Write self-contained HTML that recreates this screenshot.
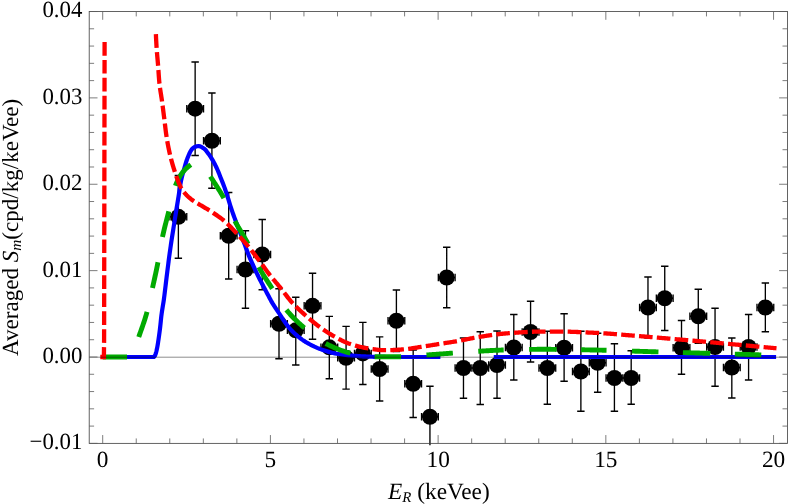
<!DOCTYPE html>
<html><head><meta charset="utf-8"><title>Averaged S_m vs E_R</title>
<style>
html,body{margin:0;padding:0;background:#fff;}
body{width:788px;height:504px;overflow:hidden;font-family:"Liberation Serif",serif;}
svg{display:block;will-change:transform;}
</style></head><body>
<svg width="788" height="504" viewBox="0 0 788 504">
<rect width="788" height="504" fill="#fff"/>
<defs><clipPath id="pc"><rect x="89.2" y="11.5" width="700.2" height="433.75"/></clipPath></defs>
<g clip-path="url(#pc)" stroke="#000" stroke-width="1.35" fill="none">
<path d="M178.37,175.5V258.25M174.67,175.5H182.07M174.67,258.25H182.07M169.98,216.8H186.76M169.98,213.1V220.5M186.76,213.1V220.5M195.14,62V155.5M191.44,62H198.84M191.44,155.5H198.84M186.76,108.7H203.53M186.76,105V112.4M203.53,105V112.4M211.91,93V188.25M208.21,93H215.61M208.21,188.25H215.61M203.53,140.75H220.3M203.53,137.05V144.45M220.3,137.05V144.45M228.68,192.5V279M224.98,192.5H232.38M224.98,279H232.38M220.3,235.75H237.07M220.3,232.05V239.45M237.07,232.05V239.45M245.46,230.75V308.25M241.76,230.75H249.16M241.76,308.25H249.16M237.07,269.5H253.84M237.07,265.8V273.2M253.84,265.8V273.2M262.23,219.5V289.75M258.53,219.5H265.93M258.53,289.75H265.93M253.84,254.5H270.61M253.84,250.8V258.2M270.61,250.8V258.2M279,288.75V358.75M275.3,288.75H282.7M275.3,358.75H282.7M270.61,323.75H287.38M270.61,320.05V327.45M287.38,320.05V327.45M295.77,297.2V365M292.07,297.2H299.47M292.07,365H299.47M287.38,330.3H304.15M287.38,326.6V334M304.15,326.6V334M312.54,273.25V339.25M308.84,273.25H316.24M308.84,339.25H316.24M304.15,305.8H320.93M304.15,302.1V309.5M320.93,302.1V309.5M329.31,316.4V378.75M325.61,316.4H333.01M325.61,378.75H333.01M320.93,347.3H337.7M320.93,343.6V351M337.7,343.6V351M346.08,326.4V389.1M342.38,326.4H349.78M342.38,389.1H349.78M337.7,357.8H354.47M337.7,354.1V361.5M354.47,354.1V361.5M362.85,322.4V384.5M359.15,322.4H366.55M359.15,384.5H366.55M354.47,353.4H371.24M354.47,349.7V357.1M371.24,349.7V357.1M379.63,336.9V401M375.93,336.9H383.33M375.93,401H383.33M371.24,369H388.01M371.24,365.3V372.7M388.01,365.3V372.7M396.4,290V351.5M392.7,290H400.1M392.7,351.5H400.1M388.01,320.75H404.78M388.01,317.05V324.45M404.78,317.05V324.45M413.17,350V417.5M409.47,350H416.87M409.47,417.5H416.87M404.78,383.75H421.55M404.78,380.05V387.45M421.55,380.05V387.45M429.94,386.25V447.25M426.24,386.25H433.64M426.24,447.25H433.64M421.55,416.75H438.32M421.55,413.05V420.45M438.32,413.05V420.45M446.71,247.25V307.75M443.01,247.25H450.41M443.01,307.75H450.41M438.32,277.5H455.1M438.32,273.8V281.2M455.1,273.8V281.2M463.48,338V398.25M459.78,338H467.18M459.78,398.25H467.18M455.1,368H471.87M455.1,364.3V371.7M471.87,364.3V371.7M480.25,331.75V404.5M476.55,331.75H483.95M476.55,404.5H483.95M471.87,368H488.64M471.87,364.3V371.7M488.64,364.3V371.7M497.02,331V398.25M493.32,331H500.72M493.32,398.25H500.72M488.64,365H505.41M488.64,361.3V368.7M505.41,361.3V368.7M513.8,314.5V380M510.1,314.5H517.5M510.1,380H517.5M505.41,347.5H522.18M505.41,343.8V351.2M522.18,343.8V351.2M530.57,301.25V362M526.87,301.25H534.27M526.87,362H534.27M522.18,332H538.95M522.18,328.3V335.7M538.95,328.3V335.7M547.34,331.25V404.25M543.64,331.25H551.04M543.64,404.25H551.04M538.95,368H555.72M538.95,364.3V371.7M555.72,364.3V371.7M564.11,313.75V381.25M560.41,313.75H567.81M560.41,381.25H567.81M555.72,347.75H572.5M555.72,344.05V351.45M572.5,344.05V351.45M580.88,331.25V411.25M577.18,331.25H584.58M577.18,411.25H584.58M572.5,371.5H589.27M572.5,367.8V375.2M589.27,367.8V375.2M597.65,333.25V392.25M593.95,333.25H601.35M593.95,392.25H601.35M589.27,362.75H606.04M589.27,359.05V366.45M606.04,359.05V366.45M614.42,343.75V411.25M610.72,343.75H618.12M610.72,411.25H618.12M606.04,378H622.81M606.04,374.3V381.7M622.81,374.3V381.7M631.19,350.75V404.25M627.49,350.75H634.89M627.49,404.25H634.89M622.81,378H639.58M622.81,374.3V381.7M639.58,374.3V381.7M647.97,277V338M644.27,277H651.67M644.27,338H651.67M639.58,307.5H656.35M639.58,303.8V311.2M656.35,303.8V311.2M664.74,266.25V330.5M661.04,266.25H668.44M661.04,330.5H668.44M656.35,298.25H673.12M656.35,294.55V301.95M673.12,294.55V301.95M681.51,320.5V374.25M677.81,320.5H685.21M677.81,374.25H685.21M673.12,347.75H689.89M673.12,344.05V351.45M689.89,344.05V351.45M698.28,289.25V343.25M694.58,289.25H701.98M694.58,343.25H701.98M689.89,316.25H706.67M689.89,312.55V319.95M706.67,312.55V319.95M715.05,308.25V386.25M711.35,308.25H718.75M711.35,386.25H718.75M706.67,347H723.44M706.67,343.3V350.7M723.44,343.3V350.7M731.82,338V398M728.12,338H735.52M728.12,398H735.52M723.44,367.5H740.21M723.44,363.8V371.2M740.21,363.8V371.2M748.59,314.5V380M744.89,314.5H752.29M744.89,380H752.29M740.21,347H756.98M740.21,343.3V350.7M756.98,343.3V350.7M765.36,283V331.75M761.66,283H769.06M761.66,331.75H769.06M756.98,307.5H773.75M756.98,303.8V311.2M773.75,303.8V311.2"/>
<circle cx="178.37" cy="216.8" r="8" fill="#000" stroke="none"/>
<circle cx="195.14" cy="108.7" r="8" fill="#000" stroke="none"/>
<circle cx="211.91" cy="140.75" r="8" fill="#000" stroke="none"/>
<circle cx="228.68" cy="235.75" r="8" fill="#000" stroke="none"/>
<circle cx="245.46" cy="269.5" r="8" fill="#000" stroke="none"/>
<circle cx="262.23" cy="254.5" r="8" fill="#000" stroke="none"/>
<circle cx="279" cy="323.75" r="8" fill="#000" stroke="none"/>
<circle cx="295.77" cy="330.3" r="8" fill="#000" stroke="none"/>
<circle cx="312.54" cy="305.8" r="8" fill="#000" stroke="none"/>
<circle cx="329.31" cy="347.3" r="8" fill="#000" stroke="none"/>
<circle cx="346.08" cy="357.8" r="8" fill="#000" stroke="none"/>
<circle cx="362.85" cy="353.4" r="8" fill="#000" stroke="none"/>
<circle cx="379.63" cy="369" r="8" fill="#000" stroke="none"/>
<circle cx="396.4" cy="320.75" r="8" fill="#000" stroke="none"/>
<circle cx="413.17" cy="383.75" r="8" fill="#000" stroke="none"/>
<circle cx="429.94" cy="416.75" r="8" fill="#000" stroke="none"/>
<circle cx="446.71" cy="277.5" r="8" fill="#000" stroke="none"/>
<circle cx="463.48" cy="368" r="8" fill="#000" stroke="none"/>
<circle cx="480.25" cy="368" r="8" fill="#000" stroke="none"/>
<circle cx="497.02" cy="365" r="8" fill="#000" stroke="none"/>
<circle cx="513.8" cy="347.5" r="8" fill="#000" stroke="none"/>
<circle cx="530.57" cy="332" r="8" fill="#000" stroke="none"/>
<circle cx="547.34" cy="368" r="8" fill="#000" stroke="none"/>
<circle cx="564.11" cy="347.75" r="8" fill="#000" stroke="none"/>
<circle cx="580.88" cy="371.5" r="8" fill="#000" stroke="none"/>
<circle cx="597.65" cy="362.75" r="8" fill="#000" stroke="none"/>
<circle cx="614.42" cy="378" r="8" fill="#000" stroke="none"/>
<circle cx="631.19" cy="378" r="8" fill="#000" stroke="none"/>
<circle cx="647.97" cy="307.5" r="8" fill="#000" stroke="none"/>
<circle cx="664.74" cy="298.25" r="8" fill="#000" stroke="none"/>
<circle cx="681.51" cy="347.75" r="8" fill="#000" stroke="none"/>
<circle cx="698.28" cy="316.25" r="8" fill="#000" stroke="none"/>
<circle cx="715.05" cy="347" r="8" fill="#000" stroke="none"/>
<circle cx="731.82" cy="367.5" r="8" fill="#000" stroke="none"/>
<circle cx="748.59" cy="347" r="8" fill="#000" stroke="none"/>
<circle cx="765.36" cy="307.5" r="8" fill="#000" stroke="none"/>
</g>
<g fill="none" stroke-width="4.3" stroke-linejoin="round">
<path d="M102.7,357 L153.8,357 L154.95,355.7 L155.6,354 L156.13,352.3 L156.57,350.56 L156.95,348.82 L157.29,347.07 L157.6,345.31 L157.89,343.55 L158.17,341.78 L158.44,340.02 L158.69,338.25 L158.94,336.48 L159.19,334.71 L159.43,332.94 L159.66,331.17 L159.89,329.4 L160.11,327.63 L160.32,325.86 L160.51,324.08 L160.69,322.31 L160.86,320.53 L161.04,318.75 L161.23,316.98 L161.44,315.21 L161.68,313.44 L161.94,311.67 L162.22,309.91 L162.5,308.14 L162.78,306.38 L163.07,304.62 L163.36,302.86 L163.64,301.09 L163.89,299.33 L164.13,297.56 L164.36,295.79 L164.58,294.02 L164.79,292.24 L165,290.47 L165.21,288.7 L165.43,286.92 L165.64,285.15 L165.86,283.38 L166.08,281.61 L166.29,279.83 L166.51,278.06 L166.72,276.29 L166.94,274.52 L167.16,272.74 L167.38,270.97 L167.6,269.2 L167.82,267.43 L168.05,265.66 L168.27,263.89 L168.5,262.12 L168.72,260.35 L168.95,258.58 L169.19,256.81 L169.43,255.04 L169.67,253.27 L169.92,251.5 L170.17,249.73 L170.42,247.96 L170.68,246.2 L170.94,244.43 L171.2,242.66 L171.46,240.9 L171.73,239.13 L172,237.37 L172.28,235.61 L172.56,233.84 L172.84,232.08 L173.12,230.32 L173.4,228.55 L173.68,226.79 L173.95,225.02 L174.23,223.26 L174.5,221.5 L174.78,219.73 L175.06,217.97 L175.33,216.21 L175.61,214.44 L175.89,212.68 L176.17,210.92 L176.46,209.15 L176.75,207.39 L177.04,205.63 L177.33,203.87 L177.63,202.11 L177.92,200.35 L178.2,198.58 L178.49,196.82 L178.76,195.06 L179.02,193.29 L179.28,191.52 L179.54,189.75 L179.81,187.98 L180.08,186.22 L180.37,184.45 L180.68,182.7 L181.01,180.95 L181.37,179.21 L181.77,177.47 L182.22,175.74 L182.69,174.02 L183.19,172.3 L183.69,170.58 L184.18,168.87 L184.67,167.14 L185.16,165.41 L185.66,163.68 L186.18,161.96 L186.72,160.26 L187.32,158.59 L187.96,156.94 L188.65,155.28 L189.41,153.52 L190.24,151.79 L191.17,150.18 L192.2,148.82 L193.37,147.81 L194.92,146.92 L196.71,146.23 L198.44,146.01 L200.14,146.37 L201.84,147.16 L203.45,148.16 L204.84,149.2 L206.02,150.51 L207.1,152 L208.18,153.42 L209.25,154.86 L210.27,156.33 L211.23,157.83 L212.14,159.35 L213.03,160.9 L213.89,162.47 L214.73,164.06 L215.54,165.66 L216.32,167.26 L217.07,168.88 L217.79,170.5 L218.48,172.15 L219.15,173.81 L219.81,175.47 L220.46,177.14 L221.12,178.8 L221.78,180.45 L222.45,182.11 L223.1,183.77 L223.74,185.44 L224.36,187.11 L224.96,188.8 L225.53,190.49 L226.09,192.18 L226.64,193.88 L227.19,195.58 L227.73,197.28 L228.27,198.98 L228.79,200.69 L229.31,202.4 L229.83,204.11 L230.36,205.81 L230.9,207.51 L231.47,209.21 L232.05,210.9 L232.63,212.58 L233.23,214.26 L233.83,215.95 L234.44,217.62 L235.06,219.3 L235.68,220.98 L236.3,222.65 L236.94,224.31 L237.58,225.98 L238.23,227.64 L238.88,229.31 L239.52,230.97 L240.17,232.64 L240.81,234.3 L241.45,235.97 L242.09,237.64 L242.73,239.3 L243.37,240.97 L244,242.64 L244.64,244.31 L245.27,245.98 L245.88,247.66 L246.49,249.34 L247.09,251.02 L247.71,252.69 L248.35,254.36 L249.01,256.01 L249.71,257.66 L250.43,259.29 L251.16,260.92 L251.89,262.55 L252.62,264.18 L253.35,265.81 L254.09,267.44 L254.83,269.06 L255.58,270.68 L256.34,272.29 L257.11,273.91 L257.89,275.51 L258.67,277.12 L259.46,278.72 L260.26,280.31 L261.08,281.9 L261.9,283.49 L262.73,285.07 L263.56,286.65 L264.39,288.23 L265.23,289.81 L266.07,291.38 L266.91,292.96 L267.75,294.53 L268.59,296.11 L269.42,297.69 L270.26,299.27 L271.1,300.84 L271.98,302.39 L272.89,303.93 L273.83,305.44 L274.79,306.95 L275.77,308.45 L276.76,309.93 L277.77,311.4 L278.79,312.87 L279.8,314.34 L280.78,315.84 L281.74,317.34 L282.7,318.85 L283.67,320.35 L284.67,321.82 L285.71,323.27 L286.76,324.72 L287.84,326.15 L288.96,327.55 L290.11,328.9 L291.31,330.21 L292.56,331.49 L293.84,332.74 L295.16,333.96 L296.5,335.15 L297.85,336.3 L299.24,337.43 L300.65,338.53 L302.09,339.6 L303.56,340.63 L305.05,341.59 L306.57,342.5 L308.12,343.39 L309.68,344.25 L311.27,345.09 L312.88,345.9 L314.5,346.68 L316.14,347.42 L317.79,348.12 L319.44,348.77 L321.1,349.38 L322.78,349.97 L324.47,350.54 L326.17,351.09 L327.89,351.62 L329.62,352.12 L331.36,352.59 L333.1,353.01 L334.84,353.39 L336.59,353.72 L338.34,353.99 L340.09,354.25 L341.86,354.5 L343.63,354.73 L345.41,354.94 L347.19,355.13 L348.97,355.32 L350.75,355.48 L352.54,355.64 L354.32,355.77 L356.1,355.9 L357.88,356.02 L359.66,356.13 L361.44,356.24 L363.23,356.34 L365.01,356.43 L366.79,356.52 L368.58,356.6 L370.36,356.67 L372.15,356.73 L373.93,356.78 L375.72,356.81 L377.5,356.85 L379.29,356.88 L381.07,356.92 L382.86,356.94 L384.64,356.97 L386.43,356.98 L388.21,357 L390,357 L440.4,357" stroke="#0000ff" stroke-width="4.2"/>
<path d="M493.75,357H776.1" stroke="#0000ff" stroke-width="4.2"/>
<path d="M102.7,357 L104.31,357 L105.87,357 L107.38,357 L108.85,357 L110.27,357 L111.64,357 L112.96,357 L114.24,357 L115.48,357 L116.67,357 L117.82,357 L118.92,357 L119.98,357 L121,357 L121.98,357 L122.92,357 L123.82,357 L124.68,357 L125.5,357 L126.28,357 L127.03,357 L127.74,357 L128.41,357 L129.05,357 L129.65,357 L130.22,357 L130.76,357 L131.26,357 L131.65,356.15 L132.02,355.18 L132.38,354.23 L132.75,353.28 L133.11,352.33 L133.48,351.38 L133.84,350.43 L134.2,349.48 L134.55,348.52 L134.91,347.57 L135.26,346.61 L135.62,345.66 L135.97,344.7 L136.32,343.74 L136.67,342.79 L137.01,341.83 L137.36,340.87 L137.7,339.91 L138.04,338.95 L138.38,337.99 L138.72,337.03 L139.06,336.07 L139.39,335.11 L139.73,334.15 L140.07,333.19 L140.41,332.23 L140.75,331.27 L141.09,330.3 L141.43,329.34 L141.77,328.38 L142.11,327.42 L142.44,326.45 L142.78,325.49 L143.11,324.52 L143.43,323.56 L143.76,322.59 L144.08,321.63 L144.4,320.66 L144.71,319.69 L145.02,318.72 L145.32,317.75 L145.62,316.77 L145.92,315.8 L146.2,314.83 L146.49,313.85 L146.76,312.87 L147.03,311.89 L147.29,310.91 L147.55,309.93 L147.8,308.94 L148.05,307.96 L148.29,306.97 L148.53,305.98 L148.76,304.99 L149,304 L149.22,303.01 L149.45,302.01 L149.67,301.02 L149.9,300.02 L150.11,299.03 L150.33,298.03 L150.55,297.03 L150.76,296.04 L150.98,295.04 L151.19,294.04 L151.41,293.05 L151.62,292.05 L151.84,291.05 L152.05,290.06 L152.27,289.06 L152.49,288.07 L152.7,287.07 L152.92,286.08 L153.14,285.08 L153.36,284.09 L153.58,283.09 L153.8,282.1 L154.01,281.1 L154.23,280.11 L154.45,279.11 L154.66,278.12 L154.88,277.12 L155.09,276.13 L155.31,275.13 L155.52,274.13 L155.73,273.14 L155.94,272.14 L156.15,271.14 L156.36,270.15 L156.56,269.15 L156.77,268.15 L156.97,267.16 L157.18,266.16 L157.38,265.16 L157.58,264.16 L157.77,263.16 L157.97,262.16 L158.16,261.16 L158.35,260.16 L158.54,259.16 L158.72,258.16 L158.9,257.16 L159.07,256.15 L159.25,255.15 L159.42,254.14 L159.59,253.14 L159.76,252.14 L159.93,251.13 L160.1,250.13 L160.27,249.12 L160.44,248.12 L160.62,247.11 L160.79,246.11 L160.97,245.1 L161.14,244.1 L161.32,243.1 L161.51,242.1 L161.69,241.1 L161.88,240.1 L162.08,239.1 L162.27,238.1 L162.48,237.1 L162.69,236.11 L162.9,235.11 L163.12,234.12 L163.34,233.13 L163.57,232.14 L163.8,231.14 L164.03,230.15 L164.27,229.16 L164.5,228.17 L164.75,227.18 L164.99,226.19 L165.24,225.21 L165.49,224.22 L165.74,223.23 L165.99,222.24 L166.24,221.26 L166.49,220.27 L166.75,219.28 L167,218.29 L167.26,217.31 L167.51,216.32 L167.77,215.33 L168.02,214.35 L168.27,213.36 L168.53,212.37 L168.78,211.39 L169.03,210.4 L169.27,209.41 L169.51,208.41 L169.74,207.42 L169.97,206.42 L170.2,205.42 L170.43,204.42 L170.66,203.42 L170.88,202.41 L171.11,201.41 L171.34,200.41 L171.57,199.41 L171.8,198.41 L172.04,197.41 L172.28,196.42 L172.52,195.42 L172.77,194.44 L173.03,193.45 L173.3,192.47 L173.57,191.49 L173.85,190.52 L174.14,189.56 L174.44,188.6 L174.76,187.64 L175.08,186.69 L175.42,185.76 L175.77,184.82 L176.15,183.87 L176.54,182.93 L176.96,181.99 L177.4,181.05 L177.85,180.11 L178.32,179.19 L178.81,178.27 L179.32,177.36 L179.84,176.47 L180.37,175.6 L180.92,174.74 L181.48,173.91 L182.06,173.1 L182.64,172.31 L183.26,171.53 L183.92,170.77 L184.61,170.01 L185.33,169.27 L186.08,168.55 L186.85,167.84 L187.63,167.16 L188.43,166.51 L189.24,165.88 L190.06,165.28 L190.88,164.71 L191.74,164.09 L192.63,163.45 L193.54,162.83 L194.46,162.28 L195.39,161.84 L196.3,161.57 L197.2,161.51 L198.1,161.68 L199.03,162.05 L199.96,162.57 L200.87,163.21 L201.74,163.91 L202.56,164.63 L203.31,165.32 L203.98,165.99 L204.61,166.71 L205.21,167.49 L205.78,168.31 L206.32,169.18 L206.84,170.07 L207.35,170.98 L207.85,171.91 L208.35,172.85 L208.85,173.78 L209.35,174.69 L209.87,175.59 L210.41,176.47 L210.95,177.33 L211.49,178.19 L212.04,179.05 L212.59,179.91 L213.15,180.77 L213.7,181.62 L214.26,182.48 L214.81,183.33 L215.37,184.19 L215.92,185.05 L216.48,185.9 L217.03,186.76 L217.58,187.62 L218.13,188.48 L218.67,189.34 L219.21,190.21 L219.75,191.07 L220.28,191.94 L220.81,192.81 L221.33,193.68 L221.85,194.56 L222.36,195.43 L222.86,196.32 L223.36,197.2 L223.85,198.09 L224.33,198.98 L224.8,199.88 L225.27,200.78 L225.72,201.69 L226.17,202.6 L226.62,203.52 L227.06,204.44 L227.49,205.36 L227.93,206.28 L228.36,207.21 L228.78,208.13 L229.21,209.06 L229.63,209.99 L230.06,210.92 L230.48,211.85 L230.91,212.77 L231.34,213.7 L231.77,214.62 L232.2,215.55 L232.64,216.47 L233.08,217.39 L233.53,218.3 L233.98,219.21 L234.44,220.12 L234.91,221.02 L235.38,221.92 L235.87,222.82 L236.36,223.71 L236.86,224.59 L237.36,225.48 L237.87,226.36 L238.38,227.24 L238.9,228.12 L239.42,229 L239.95,229.87 L240.47,230.75 L241,231.62 L241.52,232.49 L242.05,233.37 L242.58,234.24 L243.1,235.12 L243.62,235.99 L244.14,236.87 L244.66,237.75 L245.17,238.63 L245.67,239.51 L246.17,240.4 L246.66,241.29 L247.15,242.18 L247.63,243.08 L248.09,243.98 L248.55,244.89 L249,245.8 L249.45,246.72 L249.88,247.64 L250.31,248.56 L250.74,249.49 L251.16,250.42 L251.58,251.35 L251.99,252.28 L252.4,253.22 L252.81,254.15 L253.22,255.09 L253.63,256.03 L254.04,256.96 L254.45,257.9 L254.86,258.83 L255.28,259.76 L255.7,260.69 L256.13,261.61 L256.56,262.53 L257,263.45 L257.44,264.37 L257.89,265.27 L258.36,266.18 L258.83,267.07 L259.31,267.97 L259.8,268.85 L260.29,269.74 L260.8,270.62 L261.31,271.49 L261.83,272.37 L262.36,273.24 L262.89,274.11 L263.42,274.97 L263.96,275.84 L264.51,276.7 L265.06,277.56 L265.61,278.42 L266.17,279.27 L266.72,280.13 L267.28,280.98 L267.84,281.84 L268.4,282.69 L268.96,283.54 L269.53,284.4 L270.09,285.25 L270.65,286.1 L271.2,286.96 L271.76,287.81 L272.31,288.67 L272.86,289.52 L273.41,290.38 L273.95,291.25 L274.49,292.12 L275.03,292.99 L275.57,293.86 L276.11,294.73 L276.65,295.6 L277.19,296.48 L277.73,297.35 L278.27,298.22 L278.82,299.09 L279.37,299.95 L279.92,300.81 L280.47,301.67 L281.03,302.52 L281.6,303.37 L282.17,304.21 L282.74,305.05 L283.33,305.88 L283.92,306.7 L284.52,307.51 L285.13,308.31 L285.74,309.11 L286.37,309.89 L287.01,310.67 L287.66,311.44 L288.31,312.21 L288.98,312.97 L289.65,313.73 L290.34,314.48 L291.03,315.23 L291.73,315.98 L292.43,316.72 L293.14,317.46 L293.86,318.19 L294.59,318.91 L295.32,319.63 L296.05,320.35 L296.8,321.06 L297.54,321.77 L298.29,322.47 L299.04,323.17 L299.8,323.86 L300.56,324.54 L301.32,325.22 L302.08,325.9 L302.84,326.57 L303.61,327.24 L304.38,327.9 L305.15,328.55 L305.92,329.21 L306.7,329.87 L307.48,330.53 L308.26,331.19 L309.05,331.85 L309.84,332.51 L310.64,333.17 L311.44,333.82 L312.24,334.46 L313.05,335.1 L313.87,335.74 L314.68,336.37 L315.51,336.99 L316.33,337.6 L317.16,338.2 L318,338.79 L318.84,339.38 L319.69,339.94 L320.54,340.5 L321.39,341.04 L322.25,341.57 L323.11,342.08 L323.98,342.58 L324.86,343.06 L325.74,343.52 L326.62,343.98 L327.52,344.43 L328.42,344.88 L329.33,345.33 L330.25,345.77 L331.17,346.21 L332.1,346.64 L333.03,347.07 L333.97,347.49 L334.92,347.9 L335.87,348.3 L336.82,348.7 L337.78,349.08 L338.75,349.46 L339.71,349.83 L340.68,350.19 L341.65,350.53 L342.62,350.87 L343.6,351.19 L344.57,351.5 L345.55,351.79 L346.53,352.08 L347.51,352.34 L348.49,352.6 L349.47,352.83 L350.44,353.05 L351.42,353.27 L352.41,353.49 L353.4,353.71 L354.39,353.93 L355.38,354.15 L356.38,354.36 L357.38,354.58 L358.39,354.78 L359.39,354.99 L360.4,355.18 L361.41,355.37 L362.42,355.56 L363.43,355.73 L364.45,355.89 L365.46,356.05 L366.48,356.19 L367.5,356.32 L368.51,356.43 L369.53,356.53 L370.55,356.62 L371.56,356.69 L372.58,356.75 L373.59,356.78 L374.61,356.8 L375.62,356.8 L376.63,356.8 L377.65,356.8 L378.66,356.8 L379.68,356.8 L380.7,356.8 L381.71,356.8 L382.73,356.8 L383.75,356.8 L384.77,356.8 L385.79,356.8 L386.81,356.8 L387.83,356.8 L388.85,356.8 L389.87,356.8 L390.89,356.8 L391.91,356.8 L392.93,356.8 L393.95,356.8 L394.97,356.8 L395.99,356.8 L397.01,356.8 L398.03,356.8 L399.05,356.8 L400.07,356.8 L401.08,356.8 L402.1,356.8 L403.12,356.78 L404.13,356.76 L405.15,356.72 L406.17,356.68 L407.18,356.63 L408.2,356.57 L409.22,356.5 L410.23,356.43 L411.25,356.35 L412.26,356.26 L413.28,356.18 L414.29,356.09 L415.31,355.99 L416.32,355.9 L417.34,355.8 L418.36,355.7 L419.37,355.61 L420.39,355.51 L421.4,355.42 L422.42,355.32 L423.43,355.24 L424.45,355.15 L425.46,355.07 L426.48,354.99 L427.49,354.92 L428.51,354.85 L429.53,354.78 L430.54,354.7 L431.56,354.63 L432.57,354.56 L433.59,354.48 L434.61,354.41 L435.62,354.34 L436.64,354.26 L437.65,354.19 L438.67,354.12 L439.68,354.04 L440.7,353.97 L441.72,353.9 L442.73,353.82 L443.75,353.75 L444.76,353.68 L445.78,353.6 L446.79,353.53 L447.81,353.46 L448.83,353.39 L449.84,353.31 L450.86,353.24 L451.87,353.17 L452.89,353.09 L453.91,353.02 L454.92,352.95 L455.94,352.87 L456.95,352.8 L457.97,352.72 L458.98,352.64 L460,352.57 L461.01,352.49 L462.03,352.41 L463.05,352.34 L464.06,352.26 L465.08,352.19 L466.09,352.11 L467.11,352.03 L468.12,351.96 L469.14,351.89 L470.16,351.81 L471.17,351.74 L472.19,351.67 L473.2,351.6 L474.22,351.53 L475.24,351.47 L476.25,351.4 L477.27,351.34 L478.28,351.28 L479.3,351.22 L480.32,351.16 L481.33,351.1 L482.35,351.04 L483.37,350.98 L484.38,350.92 L485.4,350.86 L486.42,350.8 L487.44,350.74 L488.45,350.68 L489.47,350.62 L490.49,350.57 L491.5,350.51 L492.52,350.46 L493.54,350.41 L494.56,350.36 L495.57,350.31 L496.59,350.26 L497.61,350.22 L498.62,350.18 L499.64,350.14 L500.66,350.1 L501.68,350.06 L502.7,350.03 L503.71,350 L504.73,349.97 L505.75,349.95 L506.77,349.92 L507.78,349.89 L508.8,349.86 L509.82,349.84 L510.84,349.81 L511.86,349.78 L512.87,349.76 L513.89,349.73 L514.91,349.71 L515.93,349.68 L516.95,349.66 L517.96,349.63 L518.98,349.61 L520,349.59 L521.02,349.57 L522.04,349.54 L523.06,349.52 L524.07,349.5 L525.09,349.48 L526.11,349.46 L527.13,349.45 L528.15,349.43 L529.17,349.41 L530.19,349.4 L531.2,349.38 L532.22,349.37 L533.24,349.36 L534.26,349.35 L535.28,349.34 L536.3,349.33 L537.31,349.32 L538.33,349.31 L539.35,349.31 L540.37,349.3 L541.39,349.3 L542.41,349.3 L543.42,349.3 L544.44,349.3 L545.46,349.3 L546.48,349.31 L547.5,349.31 L548.52,349.31 L549.53,349.32 L550.55,349.32 L551.57,349.33 L552.59,349.34 L553.61,349.35 L554.63,349.35 L555.64,349.36 L556.66,349.37 L557.68,349.38 L558.7,349.4 L559.72,349.41 L560.74,349.42 L561.75,349.43 L562.77,349.45 L563.79,349.46 L564.81,349.47 L565.83,349.49 L566.85,349.5 L567.86,349.52 L568.88,349.54 L569.9,349.55 L570.92,349.57 L571.94,349.59 L572.96,349.6 L573.97,349.62 L574.99,349.64 L576.01,349.66 L577.03,349.68 L578.05,349.7 L579.07,349.72 L580.08,349.73 L581.1,349.75 L582.12,349.77 L583.14,349.79 L584.16,349.81 L585.18,349.83 L586.19,349.85 L587.21,349.87 L588.23,349.89 L589.25,349.91 L590.27,349.93 L591.28,349.95 L592.3,349.97 L593.32,349.99 L594.34,350.01 L595.36,350.03 L596.38,350.05 L597.39,350.07 L598.41,350.09 L599.43,350.11 L600.45,350.14 L601.47,350.16 L602.48,350.19 L603.5,350.21 L604.52,350.24 L605.54,350.27 L606.56,350.29 L607.57,350.32 L608.59,350.35 L609.61,350.38 L610.63,350.41 L611.65,350.44 L612.66,350.47 L613.68,350.5 L614.7,350.53 L615.72,350.56 L616.74,350.6 L617.75,350.63 L618.77,350.66 L619.79,350.69 L620.81,350.73 L621.83,350.76 L622.84,350.79 L623.86,350.83 L624.88,350.86 L625.9,350.89 L626.91,350.93 L627.93,350.96 L628.95,350.99 L629.97,351.03 L630.99,351.06 L632,351.09 L633.02,351.13 L634.04,351.16 L635.06,351.19 L636.08,351.23 L637.09,351.26 L638.11,351.29 L639.13,351.32 L640.15,351.35 L641.17,351.39 L642.18,351.42 L643.2,351.45 L644.22,351.48 L645.24,351.51 L646.26,351.54 L647.27,351.57 L648.29,351.6 L649.31,351.63 L650.33,351.65 L651.35,351.68 L652.36,351.71 L653.38,351.74 L654.4,351.77 L655.42,351.8 L656.44,351.83 L657.45,351.86 L658.47,351.89 L659.49,351.92 L660.51,351.95 L661.53,351.98 L662.54,352.01 L663.56,352.04 L664.58,352.07 L665.6,352.09 L666.61,352.12 L667.63,352.15 L668.65,352.18 L669.67,352.21 L670.69,352.24 L671.7,352.27 L672.72,352.3 L673.74,352.33 L674.76,352.36 L675.78,352.39 L676.79,352.42 L677.81,352.45 L678.83,352.47 L679.85,352.5 L680.87,352.53 L681.88,352.56 L682.9,352.59 L683.92,352.62 L684.94,352.65 L685.96,352.68 L686.97,352.71 L687.99,352.74 L689.01,352.77 L690.03,352.8 L691.05,352.83 L692.06,352.86 L693.08,352.89 L694.1,352.92 L695.12,352.95 L696.14,352.97 L697.15,353 L698.17,353.03 L699.19,353.06 L700.21,353.09 L701.23,353.12 L702.24,353.15 L703.26,353.18 L704.28,353.21 L705.3,353.24 L706.32,353.27 L707.33,353.3 L708.35,353.33 L709.37,353.36 L710.39,353.39 L711.41,353.42 L712.42,353.45 L713.44,353.48 L714.46,353.51 L715.48,353.54 L716.5,353.57 L717.51,353.6 L718.53,353.63 L719.55,353.66 L720.57,353.69 L721.59,353.71 L722.6,353.74 L723.62,353.77 L724.64,353.8 L725.66,353.83 L726.68,353.86 L727.69,353.89 L728.71,353.92 L729.73,353.95 L730.75,353.98 L731.77,354.01 L732.78,354.04 L733.8,354.07 L734.82,354.1 L735.84,354.13 L736.86,354.16 L737.87,354.19 L738.89,354.23 L739.91,354.26 L740.93,354.29 L741.94,354.32 L742.96,354.35 L743.98,354.38 L745,354.41 L746.02,354.44 L747.03,354.47 L748.05,354.5 L749.07,354.53 L750.09,354.56 L751.11,354.6 L752.12,354.63 L753.14,354.66 L754.16,354.69 L755.18,354.72 L756.2,354.75 L757.21,354.78 L758.23,354.82 L759.25,354.85 L760.27,354.88 L761.29,354.91 L762.3,354.94 L763.32,354.98 L764.34,355.01 L765.36,355.04 L766.37,355.07 L767.39,355.11 L768.41,355.14 L769.43,355.17 L770.45,355.2 L771.46,355.23 L772.48,355.27 L773.5,355.3" stroke="#00aa00" stroke-width="4.9" stroke-dasharray="24.33 25.55 26.48 24.44 26.48 25.46 26.48 26.49 26.57 27.8 25.47 25.47 26.48 25.47 25.47 25.47 25.5 26.53 26.55 24.5 26.48 25.47 26.48 25.46 25.46 25.46 27.5 24.44 25.46 25.46 26.48 24.44 27.5 24.44 26.48 1000"/>
<path d="M100.3,357 L103.9,357 L104.1,340 L104.6,41.8" stroke="#ff0000" stroke-linejoin="miter" stroke-dasharray="13.7 4.25" stroke-dashoffset="0.2"/>
<path d="M155.9,34.2 L155.94,35.11 L155.97,36.02 L156.01,36.93 L156.05,37.84 L156.1,38.75 L156.14,39.66 L156.19,40.57 L156.24,41.48 L156.29,42.39 L156.34,43.29 L156.39,44.2 L156.44,45.11 L156.5,46.02 L156.55,46.93 L156.61,47.84 L156.67,48.74 L156.73,49.65 L156.8,50.56 L156.87,51.47 L156.94,52.37 L157.02,53.28 L157.09,54.19 L157.17,55.1 L157.25,56 L157.33,56.91 L157.42,57.82 L157.5,58.72 L157.58,59.63 L157.66,60.54 L157.74,61.44 L157.82,62.35 L157.9,63.26 L157.98,64.17 L158.05,65.07 L158.12,65.98 L158.19,66.89 L158.26,67.8 L158.32,68.7 L158.39,69.61 L158.45,70.52 L158.51,71.43 L158.57,72.34 L158.63,73.25 L158.69,74.16 L158.75,75.07 L158.82,75.97 L158.88,76.88 L158.95,77.79 L159.02,78.7 L159.09,79.6 L159.16,80.51 L159.24,81.42 L159.33,82.32 L159.41,83.23 L159.51,84.13 L159.61,85.03 L159.72,85.94 L159.84,86.84 L159.96,87.74 L160.09,88.64 L160.22,89.54 L160.36,90.44 L160.5,91.34 L160.64,92.24 L160.78,93.14 L160.92,94.04 L161.07,94.94 L161.21,95.84 L161.35,96.74 L161.49,97.64 L161.63,98.54 L161.77,99.44 L161.9,100.34 L162.02,101.25 L162.14,102.15 L162.26,103.05 L162.38,103.95 L162.5,104.86 L162.62,105.76 L162.74,106.66 L162.86,107.56 L162.97,108.47 L163.09,109.37 L163.2,110.27 L163.32,111.18 L163.43,112.08 L163.55,112.98 L163.66,113.88 L163.78,114.79 L163.89,115.69 L164.01,116.59 L164.12,117.5 L164.24,118.4 L164.35,119.3 L164.46,120.21 L164.57,121.11 L164.68,122.01 L164.79,122.92 L164.9,123.82 L165,124.73 L165.11,125.63 L165.22,126.54 L165.32,127.44 L165.43,128.35 L165.54,129.25 L165.65,130.15 L165.76,131.06 L165.88,131.96 L166,132.86 L166.12,133.76 L166.25,134.66 L166.38,135.56 L166.51,136.46 L166.65,137.36 L166.79,138.26 L166.94,139.16 L167.09,140.06 L167.24,140.96 L167.4,141.85 L167.56,142.75 L167.72,143.65 L167.89,144.54 L168.06,145.44 L168.23,146.33 L168.41,147.23 L168.59,148.12 L168.77,149.01 L168.96,149.9 L169.15,150.79 L169.34,151.68 L169.53,152.57 L169.73,153.46 L169.93,154.35 L170.14,155.23 L170.35,156.11 L170.56,157 L170.79,157.88 L171.01,158.76 L171.24,159.65 L171.48,160.53 L171.72,161.41 L171.96,162.29 L172.21,163.16 L172.46,164.04 L172.71,164.92 L172.97,165.79 L173.24,166.66 L173.5,167.53 L173.77,168.4 L174.05,169.27 L174.32,170.14 L174.6,171 L174.88,171.86 L175.17,172.73 L175.45,173.6 L175.74,174.47 L176.03,175.34 L176.32,176.22 L176.62,177.09 L176.92,177.96 L177.23,178.83 L177.54,179.69 L177.86,180.55 L178.19,181.41 L178.53,182.25 L178.88,183.1 L179.23,183.93 L179.6,184.76 L179.98,185.58 L180.37,186.38 L180.77,187.18 L181.19,187.97 L181.64,188.74 L182.11,189.52 L182.62,190.28 L183.15,191.03 L183.71,191.77 L184.28,192.5 L184.86,193.21 L185.46,193.89 L186.06,194.56 L186.67,195.21 L187.31,195.85 L187.97,196.48 L188.65,197.09 L189.35,197.69 L190.05,198.28 L190.77,198.86 L191.5,199.42 L192.23,199.97 L192.96,200.51 L193.69,201.04 L194.44,201.54 L195.2,202.04 L195.97,202.51 L196.76,202.98 L197.54,203.44 L198.34,203.89 L199.13,204.34 L199.93,204.79 L200.72,205.25 L201.51,205.71 L202.29,206.18 L203.07,206.64 L203.85,207.11 L204.64,207.58 L205.42,208.04 L206.2,208.51 L206.99,208.97 L207.77,209.44 L208.55,209.91 L209.33,210.39 L210.1,210.86 L210.87,211.35 L211.64,211.84 L212.4,212.33 L213.16,212.83 L213.92,213.34 L214.68,213.84 L215.43,214.35 L216.19,214.86 L216.95,215.38 L217.7,215.9 L218.44,216.43 L219.19,216.96 L219.93,217.49 L220.66,218.04 L221.38,218.59 L222.1,219.14 L222.81,219.7 L223.51,220.28 L224.2,220.86 L224.89,221.45 L225.56,222.05 L226.23,222.66 L226.9,223.27 L227.56,223.9 L228.21,224.53 L228.86,225.17 L229.5,225.82 L230.14,226.47 L230.78,227.12 L231.41,227.78 L232.05,228.45 L232.67,229.11 L233.3,229.78 L233.93,230.44 L234.55,231.11 L235.17,231.78 L235.8,232.44 L236.42,233.11 L237.04,233.77 L237.66,234.43 L238.28,235.1 L238.9,235.77 L239.52,236.44 L240.13,237.11 L240.74,237.79 L241.35,238.47 L241.96,239.14 L242.56,239.83 L243.17,240.51 L243.77,241.19 L244.37,241.88 L244.96,242.57 L245.55,243.26 L246.15,243.95 L246.73,244.65 L247.32,245.34 L247.9,246.04 L248.48,246.74 L249.06,247.45 L249.63,248.15 L250.2,248.86 L250.77,249.57 L251.34,250.28 L251.9,251 L252.46,251.72 L253.02,252.43 L253.58,253.15 L254.14,253.87 L254.69,254.6 L255.24,255.32 L255.8,256.04 L256.35,256.77 L256.9,257.49 L257.45,258.22 L258,258.95 L258.55,259.67 L259.1,260.4 L259.65,261.13 L260.19,261.86 L260.73,262.59 L261.27,263.32 L261.8,264.06 L262.33,264.8 L262.87,265.54 L263.4,266.28 L263.93,267.02 L264.46,267.76 L264.99,268.5 L265.53,269.23 L266.06,269.97 L266.6,270.71 L267.14,271.44 L267.68,272.17 L268.23,272.9 L268.78,273.62 L269.33,274.34 L269.89,275.06 L270.46,275.77 L271.02,276.48 L271.6,277.19 L272.17,277.9 L272.75,278.6 L273.33,279.3 L273.91,280 L274.49,280.7 L275.08,281.4 L275.66,282.1 L276.25,282.79 L276.83,283.49 L277.42,284.19 L278,284.89 L278.59,285.59 L279.17,286.29 L279.75,286.99 L280.32,287.7 L280.9,288.4 L281.47,289.11 L282.04,289.82 L282.6,290.54 L283.15,291.27 L283.71,291.99 L284.26,292.72 L284.81,293.45 L285.36,294.18 L285.91,294.91 L286.46,295.64 L287.01,296.37 L287.56,297.09 L288.12,297.81 L288.68,298.53 L289.25,299.24 L289.82,299.94 L290.4,300.64 L290.98,301.33 L291.58,302.02 L292.18,302.69 L292.79,303.36 L293.41,304.02 L294.04,304.67 L294.67,305.32 L295.31,305.97 L295.96,306.61 L296.61,307.25 L297.26,307.88 L297.92,308.51 L298.59,309.14 L299.25,309.76 L299.92,310.39 L300.6,311 L301.27,311.62 L301.95,312.23 L302.63,312.84 L303.31,313.45 L303.99,314.05 L304.67,314.66 L305.35,315.26 L306.04,315.86 L306.72,316.46 L307.4,317.06 L308.09,317.66 L308.78,318.26 L309.47,318.85 L310.17,319.44 L310.86,320.03 L311.56,320.62 L312.26,321.2 L312.97,321.78 L313.67,322.36 L314.38,322.93 L315.1,323.5 L315.81,324.06 L316.53,324.62 L317.25,325.17 L317.98,325.72 L318.7,326.26 L319.43,326.8 L320.17,327.33 L320.91,327.86 L321.65,328.39 L322.4,328.91 L323.14,329.43 L323.9,329.95 L324.65,330.46 L325.41,330.97 L326.17,331.48 L326.93,331.98 L327.7,332.47 L328.47,332.96 L329.24,333.45 L330.02,333.93 L330.8,334.4 L331.58,334.87 L332.36,335.33 L333.15,335.78 L333.94,336.22 L334.73,336.66 L335.53,337.11 L336.32,337.55 L337.12,338 L337.93,338.44 L338.73,338.88 L339.54,339.31 L340.35,339.74 L341.17,340.16 L341.99,340.58 L342.81,340.99 L343.63,341.38 L344.46,341.77 L345.29,342.14 L346.13,342.5 L346.96,342.85 L347.81,343.18 L348.65,343.5 L349.5,343.8 L350.35,344.08 L351.2,344.36 L352.07,344.63 L352.93,344.9 L353.8,345.16 L354.68,345.41 L355.55,345.66 L356.44,345.91 L357.32,346.15 L358.21,346.38 L359.1,346.6 L359.99,346.81 L360.88,347.02 L361.78,347.22 L362.67,347.41 L363.57,347.59 L364.47,347.77 L365.36,347.93 L366.26,348.09 L367.15,348.23 L368.05,348.37 L368.94,348.5 L369.84,348.64 L370.74,348.78 L371.64,348.92 L372.55,349.05 L373.45,349.18 L374.35,349.31 L375.26,349.43 L376.17,349.55 L377.07,349.66 L377.98,349.77 L378.89,349.86 L379.8,349.95 L380.71,350.02 L381.62,350.08 L382.53,350.13 L383.43,350.17 L384.34,350.19 L385.25,350.2 L386.16,350.2 L387.07,350.19 L387.97,350.17 L388.88,350.15 L389.79,350.13 L390.7,350.1 L391.62,350.06 L392.53,350.03 L393.44,349.98 L394.35,349.94 L395.26,349.89 L396.17,349.84 L397.08,349.79 L397.99,349.73 L398.9,349.67 L399.81,349.61 L400.72,349.55 L401.62,349.49 L402.53,349.43 L403.44,349.37 L404.34,349.3 L405.24,349.21 L406.15,349.12 L407.05,349.01 L407.95,348.9 L408.86,348.78 L409.76,348.65 L410.66,348.52 L411.56,348.38 L412.46,348.24 L413.36,348.1 L414.26,347.95 L415.16,347.8 L416.06,347.65 L416.96,347.51 L417.86,347.36 L418.76,347.21 L419.66,347.07 L420.56,346.94 L421.46,346.8 L422.36,346.67 L423.26,346.53 L424.16,346.39 L425.06,346.25 L425.96,346.11 L426.86,345.97 L427.76,345.82 L428.66,345.68 L429.56,345.53 L430.46,345.39 L431.35,345.25 L432.25,345.1 L433.15,344.96 L434.05,344.81 L434.95,344.67 L435.85,344.52 L436.75,344.38 L437.65,344.24 L438.55,344.09 L439.44,343.95 L440.34,343.81 L441.24,343.67 L442.14,343.53 L443.04,343.4 L443.94,343.26 L444.84,343.12 L445.74,342.98 L446.64,342.85 L447.54,342.71 L448.44,342.57 L449.34,342.43 L450.24,342.29 L451.14,342.15 L452.04,342 L452.94,341.86 L453.84,341.71 L454.74,341.56 L455.63,341.41 L456.53,341.26 L457.43,341.1 L458.32,340.94 L459.22,340.78 L460.11,340.61 L461.01,340.44 L461.9,340.26 L462.79,340.08 L463.69,339.91 L464.58,339.73 L465.47,339.54 L466.36,339.36 L467.26,339.18 L468.15,339 L469.04,338.82 L469.94,338.64 L470.83,338.46 L471.72,338.28 L472.62,338.11 L473.51,337.93 L474.4,337.76 L475.3,337.6 L476.19,337.44 L477.09,337.28 L477.99,337.12 L478.88,336.98 L479.78,336.83 L480.68,336.7 L481.58,336.56 L482.48,336.42 L483.38,336.28 L484.28,336.14 L485.18,336 L486.08,335.87 L486.98,335.73 L487.88,335.6 L488.78,335.47 L489.69,335.33 L490.59,335.21 L491.49,335.08 L492.39,334.95 L493.3,334.83 L494.2,334.71 L495.1,334.59 L496.01,334.47 L496.91,334.36 L497.82,334.25 L498.72,334.14 L499.62,334.04 L500.53,333.94 L501.43,333.85 L502.34,333.76 L503.24,333.67 L504.15,333.59 L505.06,333.51 L505.96,333.43 L506.87,333.36 L507.77,333.3 L508.68,333.23 L509.59,333.16 L510.49,333.09 L511.4,333.02 L512.31,332.95 L513.22,332.88 L514.12,332.82 L515.03,332.75 L515.94,332.68 L516.85,332.62 L517.76,332.56 L518.67,332.49 L519.58,332.43 L520.48,332.37 L521.39,332.31 L522.3,332.26 L523.21,332.2 L524.12,332.15 L525.03,332.09 L525.94,332.04 L526.85,332 L527.76,331.95 L528.67,331.91 L529.58,331.87 L530.49,331.83 L531.4,331.79 L532.31,331.76 L533.22,331.73 L534.13,331.7 L535.04,331.68 L535.95,331.65 L536.86,331.64 L537.77,331.62 L538.68,331.61 L539.59,331.6 L540.5,331.6 L541.41,331.6 L542.32,331.6 L543.23,331.6 L544.14,331.6 L545.05,331.6 L545.96,331.6 L546.88,331.6 L547.79,331.6 L548.7,331.6 L549.61,331.6 L550.52,331.6 L551.43,331.6 L552.34,331.6 L553.25,331.6 L554.16,331.6 L555.07,331.6 L555.98,331.6 L556.89,331.6 L557.8,331.6 L558.71,331.6 L559.62,331.6 L560.53,331.6 L561.44,331.6 L562.35,331.6 L563.26,331.61 L564.17,331.62 L565.08,331.63 L565.99,331.64 L566.9,331.66 L567.81,331.68 L568.72,331.7 L569.63,331.72 L570.54,331.75 L571.45,331.78 L572.36,331.8 L573.27,331.84 L574.18,331.87 L575.09,331.9 L576,331.94 L576.91,331.98 L577.82,332.02 L578.73,332.05 L579.64,332.1 L580.55,332.14 L581.46,332.18 L582.37,332.22 L583.28,332.26 L584.19,332.31 L585.1,332.35 L586.01,332.39 L586.92,332.44 L587.83,332.48 L588.74,332.53 L589.65,332.57 L590.55,332.61 L591.46,332.65 L592.37,332.69 L593.28,332.74 L594.19,332.78 L595.1,332.82 L596.01,332.87 L596.92,332.92 L597.83,332.97 L598.74,333.01 L599.65,333.07 L600.56,333.12 L601.46,333.17 L602.37,333.23 L603.28,333.28 L604.19,333.34 L605.1,333.4 L606.01,333.45 L606.92,333.51 L607.82,333.57 L608.73,333.63 L609.64,333.7 L610.55,333.76 L611.46,333.82 L612.36,333.89 L613.27,333.96 L614.18,334.03 L615.09,334.1 L615.99,334.18 L616.9,334.25 L617.81,334.33 L618.72,334.41 L619.62,334.49 L620.53,334.56 L621.44,334.64 L622.34,334.72 L623.25,334.8 L624.16,334.88 L625.06,334.96 L625.97,335.03 L626.88,335.11 L627.79,335.18 L628.69,335.26 L629.6,335.33 L630.51,335.4 L631.42,335.48 L632.32,335.55 L633.23,335.62 L634.14,335.69 L635.05,335.77 L635.95,335.84 L636.86,335.91 L637.77,335.99 L638.67,336.06 L639.58,336.13 L640.49,336.21 L641.4,336.28 L642.3,336.36 L643.21,336.43 L644.12,336.51 L645.03,336.58 L645.93,336.66 L646.84,336.73 L647.75,336.81 L648.65,336.88 L649.56,336.96 L650.47,337.04 L651.38,337.11 L652.28,337.19 L653.19,337.26 L654.1,337.34 L655,337.41 L655.91,337.49 L656.82,337.57 L657.73,337.64 L658.63,337.72 L659.54,337.8 L660.45,337.87 L661.35,337.95 L662.26,338.03 L663.17,338.1 L664.08,338.18 L664.98,338.26 L665.89,338.33 L666.8,338.41 L667.7,338.49 L668.61,338.57 L669.52,338.64 L670.42,338.72 L671.33,338.8 L672.24,338.88 L673.15,338.95 L674.05,339.03 L674.96,339.11 L675.87,339.19 L676.77,339.27 L677.68,339.34 L678.59,339.42 L679.49,339.5 L680.4,339.58 L681.31,339.66 L682.22,339.74 L683.12,339.81 L684.03,339.89 L684.94,339.97 L685.84,340.05 L686.75,340.13 L687.66,340.21 L688.56,340.29 L689.47,340.37 L690.38,340.45 L691.28,340.52 L692.19,340.6 L693.1,340.68 L694,340.76 L694.91,340.84 L695.82,340.92 L696.72,341 L697.63,341.08 L698.54,341.16 L699.45,341.24 L700.35,341.32 L701.26,341.4 L702.17,341.48 L703.07,341.57 L703.98,341.65 L704.89,341.73 L705.79,341.81 L706.7,341.89 L707.61,341.97 L708.51,342.05 L709.42,342.13 L710.33,342.21 L711.23,342.29 L712.14,342.38 L713.05,342.46 L713.95,342.54 L714.86,342.62 L715.77,342.7 L716.67,342.79 L717.58,342.87 L718.49,342.95 L719.39,343.03 L720.3,343.11 L721.21,343.2 L722.11,343.28 L723.02,343.36 L723.93,343.44 L724.83,343.52 L725.74,343.61 L726.65,343.69 L727.55,343.77 L728.46,343.85 L729.36,343.94 L730.27,344.02 L731.18,344.1 L732.08,344.18 L732.99,344.27 L733.9,344.35 L734.8,344.43 L735.71,344.52 L736.62,344.6 L737.52,344.68 L738.43,344.76 L739.34,344.85 L740.24,344.93 L741.15,345.01 L742.06,345.1 L742.96,345.18 L743.87,345.26 L744.78,345.35 L745.68,345.43 L746.59,345.51 L747.5,345.6 L748.4,345.68 L749.31,345.76 L750.21,345.85 L751.12,345.93 L752.03,346.01 L752.93,346.1 L753.84,346.18 L754.75,346.27 L755.65,346.35 L756.56,346.43 L757.47,346.52 L758.37,346.6 L759.28,346.69 L760.19,346.77 L761.09,346.86 L762,346.94 L762.9,347.03 L763.81,347.11 L764.72,347.19 L765.62,347.28 L766.53,347.36 L767.44,347.45 L768.34,347.53 L769.25,347.62 L770.16,347.7 L771.06,347.79 L771.97,347.87 L772.87,347.96 L773.78,348.04 L774.69,348.13 L775.59,348.21 L776.5,348.3" stroke="#ff0000" stroke-dasharray="13.7 4.25 13.7 4.25 13.7 4.25 13.7 4.25 13.7 4.25 13.7 4.25 13.7 4.25 13.7 4.25 13.7 4.25 13.7 4.25 13.7 4.25 13.7 4.25 13.7 4.25 13.7 4.25 13.7 4.25 13.7 4.25 13.7 4.25 13.7 4.25 13.7 4.25 13.64 4.23 13.64 4.23 13.64 4.23 13.64 4.23 13.64 4.23 13.64 4.23 13.64 4.23 13.64 4.23 13.64 4.23 13.64 4.23 13.64 4.23 13.64 4.23 13.64 4.23 13.64 4.23 13.64 4.23 13.64 4.23 13.64 4.23 13.64 4.23 13.64 4.23 13.64 4.23 13.64 4.23 13.64 4.23 13.64 4.23 13.64 4.23 13.64 4.23 13.64 4.23 13.64 4.23 13.64 4.23"/>
</g>
<g stroke="#3c3c3c" stroke-width="0.8" fill="none">
<path d="M89.2,357.2H787.4" stroke="#000" stroke-opacity="0.5" stroke-width="0.9"/>
<rect x="89.2" y="11.5" width="698.2" height="431.85"/>
<path d="M102.7,443.35v-8.3M102.7,11.5v8.3M136.24,443.35v-4.9M136.24,11.5v4.9M169.78,443.35v-4.9M169.78,11.5v4.9M203.33,443.35v-4.9M203.33,11.5v4.9M236.87,443.35v-4.9M236.87,11.5v4.9M270.41,443.35v-8.3M270.41,11.5v8.3M303.95,443.35v-4.9M303.95,11.5v4.9M337.5,443.35v-4.9M337.5,11.5v4.9M371.04,443.35v-4.9M371.04,11.5v4.9M404.58,443.35v-4.9M404.58,11.5v4.9M438.12,443.35v-8.3M438.12,11.5v8.3M471.67,443.35v-4.9M471.67,11.5v4.9M505.21,443.35v-4.9M505.21,11.5v4.9M538.75,443.35v-4.9M538.75,11.5v4.9M572.29,443.35v-4.9M572.29,11.5v4.9M605.84,443.35v-8.3M605.84,11.5v8.3M639.38,443.35v-4.9M639.38,11.5v4.9M672.92,443.35v-4.9M672.92,11.5v4.9M706.47,443.35v-4.9M706.47,11.5v4.9M740.01,443.35v-4.9M740.01,11.5v4.9M773.55,443.35v-8.3M773.55,11.5v8.3M89.2,443.37h8.3M787.4,443.37h-8.3M89.2,426.1h4.9M787.4,426.1h-4.9M89.2,408.82h4.9M787.4,408.82h-4.9M89.2,391.55h4.9M787.4,391.55h-4.9M89.2,374.27h4.9M787.4,374.27h-4.9M89.2,357h8.3M787.4,357h-8.3M89.2,339.73h4.9M787.4,339.73h-4.9M89.2,322.45h4.9M787.4,322.45h-4.9M89.2,305.18h4.9M787.4,305.18h-4.9M89.2,287.9h4.9M787.4,287.9h-4.9M89.2,270.63h8.3M787.4,270.63h-8.3M89.2,253.36h4.9M787.4,253.36h-4.9M89.2,236.08h4.9M787.4,236.08h-4.9M89.2,218.81h4.9M787.4,218.81h-4.9M89.2,201.53h4.9M787.4,201.53h-4.9M89.2,184.26h8.3M787.4,184.26h-8.3M89.2,166.99h4.9M787.4,166.99h-4.9M89.2,149.71h4.9M787.4,149.71h-4.9M89.2,132.44h4.9M787.4,132.44h-4.9M89.2,115.16h4.9M787.4,115.16h-4.9M89.2,97.89h8.3M787.4,97.89h-8.3M89.2,80.62h4.9M787.4,80.62h-4.9M89.2,63.34h4.9M787.4,63.34h-4.9M89.2,46.07h4.9M787.4,46.07h-4.9M89.2,28.79h4.9M787.4,28.79h-4.9M89.2,11.52h8.3M787.4,11.52h-8.3" stroke="#5c5c5c"/>
</g>
<g font-family="'Liberation Serif', serif" fill="#000" text-rendering="geometricPrecision">
<text transform="translate(82.4,17.42) scale(0.98,1)" font-size="23.3" text-anchor="end">0.04</text>
<text transform="translate(82.4,103.79) scale(0.98,1)" font-size="23.3" text-anchor="end">0.03</text>
<text transform="translate(82.4,190.16) scale(0.98,1)" font-size="23.3" text-anchor="end">0.02</text>
<text transform="translate(82.4,276.53) scale(0.98,1)" font-size="23.3" text-anchor="end">0.01</text>
<text transform="translate(82.4,362.9) scale(0.98,1)" font-size="23.3" text-anchor="end">0.00</text>
<text transform="translate(82.4,449.27) scale(0.98,1)" font-size="23.3" text-anchor="end">−0.01</text>
<text transform="translate(102.7,467.35) scale(1,1)" font-size="23.3" text-anchor="middle">0</text>
<text transform="translate(270.41,467.35) scale(1,1)" font-size="23.3" text-anchor="middle">5</text>
<text transform="translate(438.12,467.35) scale(1,1)" font-size="23.3" text-anchor="middle">10</text>
<text transform="translate(605.84,467.35) scale(1,1)" font-size="23.3" text-anchor="middle">15</text>
<text transform="translate(773.55,467.35) scale(1,1)" font-size="23.3" text-anchor="middle">20</text>
<text x="438.9" y="498.5" font-size="23.3" text-anchor="middle"><tspan font-style="italic">E</tspan><tspan font-style="italic" font-size="14.9" dy="3.3">R</tspan><tspan dy="-3.3"> (keVee)</tspan></text>
<text transform="translate(17.6,227.4) rotate(-90)" font-size="23.05" text-anchor="middle">Averaged <tspan font-style="italic">S</tspan><tspan font-style="italic" font-size="15.3" dy="3.8">m</tspan><tspan dy="-3.8">(cpd/kg/keVee)</tspan></text>
</g>
</svg>
</body></html>
